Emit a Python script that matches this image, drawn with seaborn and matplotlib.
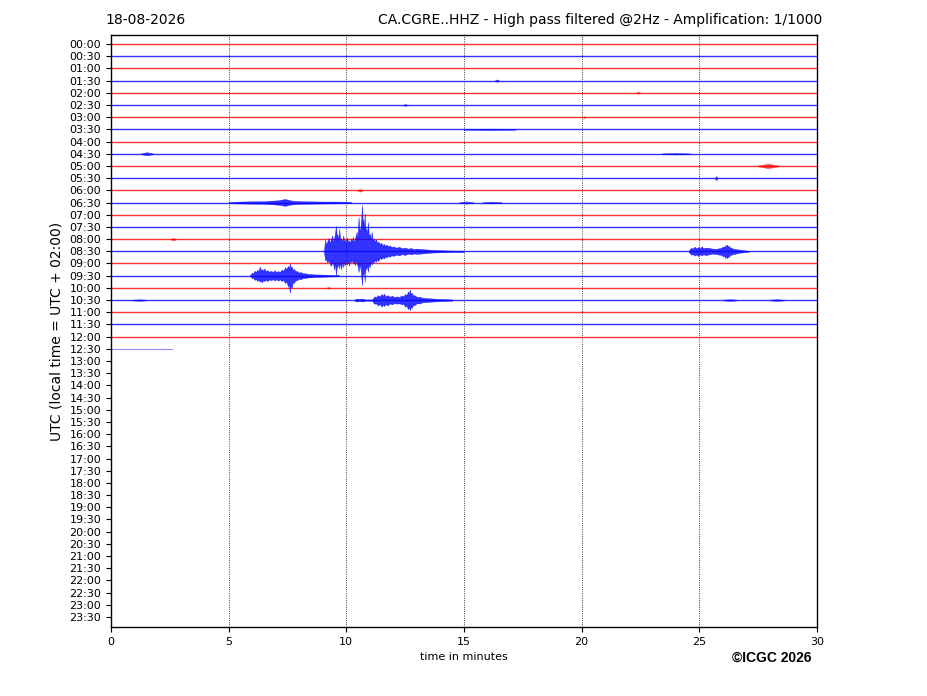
import numpy as np
import pandas as pd
import matplotlib
matplotlib.use('Agg')
import matplotlib.pyplot as plt
import seaborn as sns

# half-hour rows of the helicorder
row_labels = ['00:00', '00:30', '01:00', '01:30', '02:00', '02:30', '03:00', '03:30',
              '04:00', '04:30', '05:00', '05:30', '06:00', '06:30', '07:00', '07:30',
              '08:00', '08:30', '09:00', '09:30', '10:00', '10:30', '11:00', '11:30',
              '12:00', '12:30', '13:00', '13:30', '14:00', '14:30', '15:00', '15:30',
              '16:00', '16:30', '17:00', '17:30', '18:00', '18:30', '19:00', '19:30',
              '20:00', '20:30', '21:00', '21:30', '22:00', '22:30', '23:00', '23:30']
# minutes of data recorded in each row (rows after 12:30 are empty)
trace_end = [30, 30, 30, 30, 30, 30, 30, 30, 30, 30, 30, 30, 30,
             30, 30, 30, 30, 30, 30, 30, 30, 30, 30, 30, 30, 2.6]

# earthquake envelopes (amplitude in row units, up / down of the baseline)
quake_rows = [17, 17, 19, 21, 13]
quake_t = [
    [9.05, 9.10, 9.14, 9.18, 9.25, 9.30, 9.33, 9.40, 9.45, 9.48, 9.52, 9.56, 9.60, 9.62,
     9.66, 9.70, 9.74, 9.78, 9.83, 9.87, 9.91, 9.95, 9.99, 10.03, 10.08, 10.12, 10.16,
     10.20, 10.24, 10.28, 10.32, 10.36, 10.40, 10.44, 10.48, 10.52, 10.56, 10.60, 10.64,
     10.67, 10.70, 10.72, 10.75, 10.78, 10.82, 10.85, 10.88, 10.92, 10.96, 11.00, 11.04,
     11.08, 11.12, 11.17, 11.21, 11.26, 11.31, 11.36, 11.42, 11.48, 11.54, 11.60, 11.66,
     11.72, 11.78, 11.85, 11.92, 12.00, 12.12, 12.25, 12.37, 12.50, 12.62, 12.75, 12.88,
     13.00, 13.35, 13.70, 14.10, 14.50, 15.00],
    [24.55, 24.65, 24.72, 24.80, 24.88, 24.95, 25.02, 25.10, 25.18, 25.25, 25.40, 25.55,
     25.70, 25.85, 25.95, 26.00, 26.05, 26.10, 26.13, 26.17, 26.21, 26.25, 26.30, 26.35,
     26.42, 26.50, 26.60, 26.70, 26.90, 27.10],
    [5.90, 6.00, 6.05, 6.10, 6.16, 6.22, 6.27, 6.32, 6.37, 6.42, 6.47, 6.52, 6.58, 6.65,
     6.72, 6.80, 6.88, 6.95, 7.02, 7.10, 7.18, 7.25, 7.32, 7.40, 7.46, 7.52, 7.56, 7.60,
     7.64, 7.68, 7.73, 7.78, 7.84, 7.90, 7.97, 8.05, 8.15, 8.25, 8.37, 8.50, 8.65, 8.80,
     9.10, 9.40, 9.70],
    [10.35, 10.45, 10.55, 10.70, 10.80, 11.10, 11.15, 11.20, 11.27, 11.35, 11.42, 11.50,
     11.55, 11.60, 11.67, 11.75, 11.85, 11.95, 12.05, 12.15, 12.25, 12.35, 12.42, 12.50,
     12.56, 12.62, 12.66, 12.70, 12.74, 12.78, 12.84, 12.90, 13.00, 13.10, 13.25, 13.40,
     13.70, 14.10, 14.50],
    [5.00, 5.50, 6.00, 6.50, 6.70, 6.90, 7.10, 7.25, 7.40, 7.55, 7.70, 7.90, 8.20, 8.60,
     9.00, 9.60, 10.20],
]
quake_up = [
    [0.05, 0.95, 0.55, 0.75, 1.10, 0.70, 0.85, 1.30, 0.80, 1.00, 1.50, 2.10, 1.20, 1.40,
     1.00, 1.85, 0.90, 1.10, 0.75, 1.30, 0.80, 0.95, 0.70, 1.15, 0.75, 0.90, 0.70,
     1.05, 0.80, 1.20, 0.75, 0.95, 1.30, 1.60, 1.10, 2.80, 1.70, 1.90, 2.90,
     3.80, 2.20, 2.60, 1.80, 3.10, 1.60, 1.90, 1.30, 2.40, 1.20, 1.45, 1.00,
     1.60, 0.90, 1.05, 0.80, 1.00, 0.70, 0.80, 0.60, 0.70, 0.50, 0.60, 0.45,
     0.55, 0.40, 0.48, 0.35, 0.40, 0.30, 0.36, 0.25, 0.30, 0.22, 0.26, 0.18,
     0.22, 0.16, 0.11, 0.08, 0.06, 0.05],
    [0.04, 0.30, 0.22, 0.38, 0.25, 0.34, 0.24, 0.40, 0.25, 0.30, 0.28, 0.22,
     0.20, 0.25, 0.30, 0.40, 0.32, 0.50, 0.40, 0.57, 0.42, 0.45, 0.30, 0.32,
     0.22, 0.20, 0.16, 0.14, 0.08, 0.04],
    [0.04, 0.25, 0.18, 0.40, 0.30, 0.50, 0.35, 0.75, 0.45, 0.55, 0.40, 0.60, 0.38, 0.45,
     0.32, 0.40, 0.30, 0.45, 0.30, 0.38, 0.30, 0.50, 0.40, 0.70, 0.55, 0.80, 0.60,
     1.00, 0.65, 0.75, 0.45, 0.55, 0.35, 0.40, 0.25, 0.30, 0.20, 0.20, 0.14, 0.14, 0.10,
     0.10, 0.08, 0.06, 0.05],
    [0.05, 0.12, 0.08, 0.12, 0.05, 0.05, 0.20, 0.30, 0.25, 0.40, 0.30, 0.50,
     0.35, 0.53, 0.30, 0.40, 0.28, 0.35, 0.25, 0.30, 0.25, 0.38, 0.30, 0.50,
     0.40, 0.70, 0.55, 0.86, 0.50, 0.60, 0.38, 0.40, 0.25, 0.28, 0.18, 0.16,
     0.12, 0.08, 0.05],
    [0.05, 0.08, 0.10, 0.10, 0.14, 0.16, 0.18, 0.24, 0.28, 0.22, 0.15, 0.12, 0.10, 0.09,
     0.08, 0.08, 0.05],
]
quake_down = [
    [0.05, 0.75, 0.60, 0.90, 0.80, 0.95, 1.20, 0.95, 1.10, 1.50, 1.00, 2.00, 1.10, 1.30,
     1.00, 1.40, 0.90, 1.50, 0.80, 1.30, 0.85, 1.15, 0.75, 1.10, 0.80, 1.20, 0.70,
     0.90, 0.70, 1.00, 0.80, 1.15, 0.80, 1.00, 1.20, 1.70, 1.10, 1.40, 2.10,
     2.80, 1.70, 1.90, 1.50, 2.50, 1.20, 1.50, 1.10, 1.70, 1.00, 1.30, 0.85,
     1.10, 0.80, 0.95, 0.70, 0.87, 0.65, 0.80, 0.55, 0.65, 0.50, 0.60, 0.42,
     0.50, 0.38, 0.45, 0.33, 0.38, 0.28, 0.33, 0.24, 0.30, 0.20, 0.25, 0.18,
     0.22, 0.15, 0.10, 0.08, 0.06, 0.05],
    [0.04, 0.28, 0.24, 0.36, 0.26, 0.40, 0.25, 0.34, 0.24, 0.32, 0.26, 0.20,
     0.22, 0.28, 0.30, 0.42, 0.35, 0.55, 0.42, 0.57, 0.40, 0.50, 0.30, 0.30,
     0.24, 0.22, 0.16, 0.12, 0.08, 0.04],
    [0.04, 0.20, 0.16, 0.35, 0.28, 0.45, 0.30, 0.50, 0.40, 0.55, 0.35, 0.45, 0.33, 0.45,
     0.30, 0.38, 0.28, 0.40, 0.30, 0.40, 0.30, 0.45, 0.35, 0.60, 0.50, 0.90, 0.70,
     1.40, 0.80, 1.00, 0.50, 0.60, 0.35, 0.40, 0.25, 0.30, 0.20, 0.20, 0.14, 0.14, 0.10,
     0.10, 0.08, 0.06, 0.05],
    [0.05, 0.12, 0.08, 0.12, 0.05, 0.05, 0.22, 0.30, 0.28, 0.45, 0.32, 0.55,
     0.35, 0.50, 0.32, 0.45, 0.28, 0.35, 0.25, 0.30, 0.26, 0.35, 0.30, 0.55,
     0.45, 0.75, 0.55, 0.85, 0.55, 0.65, 0.40, 0.42, 0.26, 0.28, 0.18, 0.16,
     0.12, 0.08, 0.05],
    [0.05, 0.08, 0.09, 0.10, 0.13, 0.15, 0.18, 0.22, 0.28, 0.20, 0.15, 0.12, 0.10, 0.09,
     0.08, 0.07, 0.05],
]

# small local blips: row, centre minute, amplitude, half width (minutes)
blip_rows = [3, 4, 5, 6, 7, 9, 9, 10, 11, 12, 13, 13, 16, 20, 21, 21, 21]
blip_t = [16.4, 22.4, 12.5, 20.1, 16.1, 1.53, 24.0, 27.93, 25.72, 10.58, 15.1, 16.2,
          2.65, 9.24, 26.3, 28.3, 1.2]
blip_amp = [0.10, 0.08, 0.07, 0.08, 0.06, 0.13, 0.06, 0.18, 0.18, 0.11, 0.09, 0.07,
            0.08, 0.06, 0.07, 0.07, 0.06]
blip_hw = [0.08, 0.08, 0.08, 0.04, 1.10, 0.25, 0.60, 0.45, 0.05, 0.10, 0.30, 0.40,
           0.12, 0.08, 0.30, 0.30, 0.30]

row_colors = ['red', 'blue']

sns.set_style('ticks')
plt.rcParams['font.family'] = ['DejaVu Sans']
plt.rcParams['text.color'] = 'black'
plt.rcParams['axes.labelcolor'] = 'black'
plt.rcParams['xtick.color'] = 'black'
plt.rcParams['ytick.color'] = 'black'

fig = plt.figure(figsize=(9.27, 6.96), dpi=100)
ax = fig.add_axes([0.1197, 0.0991, 0.7616, 0.8506])

# baselines
base = pd.DataFrame({
    'row': np.repeat(np.arange(len(trace_end)), 2),
    'minute': np.ravel([[0, e] for e in trace_end]),
})
base['y'] = base['row']
for r, g in base.groupby('row'):
    full = trace_end[r] >= 30
    sns.lineplot(data=g, x='minute', y='y', color=row_colors[r % 2], ax=ax,
                 lw=1.0 if full else 0.8, alpha=0.8 if full else 0.45,
                 estimator=None, legend=False)

# earthquakes
for r, t, up, dn in zip(quake_rows, quake_t, quake_up, quake_down):
    t = np.asarray(t)
    ax.fill_between(t, r - np.asarray(up), r + np.asarray(dn),
                    color=row_colors[r % 2], alpha=0.8, lw=0.3, zorder=3)

for r, c, a, hw in zip(blip_rows, blip_t, blip_amp, blip_hw):
    t = np.array([c - hw, c, c + hw])
    amp = np.array([0.03, a, 0.03])
    ax.fill_between(t, r - amp, r + amp, color=row_colors[r % 2],
                    alpha=0.7, lw=0.3, zorder=3)

ax.set_xlim(0, 30)
ax.set_ylim(47.82, -0.74)
ax.set_xticks([0, 5, 10, 15, 20, 25, 30])
ax.set_yticks(range(len(row_labels)))
ax.set_yticklabels(row_labels)
ax.tick_params(labelsize=8, length=3.5, width=0.8, colors='black')
ax.grid(axis='x', linestyle=':', color='black', lw=0.6)
for s in ax.spines.values():
    s.set_linewidth(1.0)
    s.set_color('black')

ax.set_xlabel('time in minutes', fontsize=8)
ax.set_ylabel('UTC (local time = UTC + 02:00)', fontsize=10)

fig.text(105 / 927, 1 - 20 / 696, '18-08-2026', fontsize=10, va='center', ha='left')
fig.text(822 / 927, 1 - 20 / 696,
         'CA.CGRE..HHZ - High pass filtered @2Hz - Amplification: 1/1000',
         fontsize=10, va='center', ha='right')
fig.text(811 / 927, 1 - 658 / 696, '\u00a9ICGC 2026', fontsize=10, fontweight='bold',
         family=['Liberation Sans', 'DejaVu Sans'], va='center', ha='right')

fig.savefig('out.png', dpi=100)
